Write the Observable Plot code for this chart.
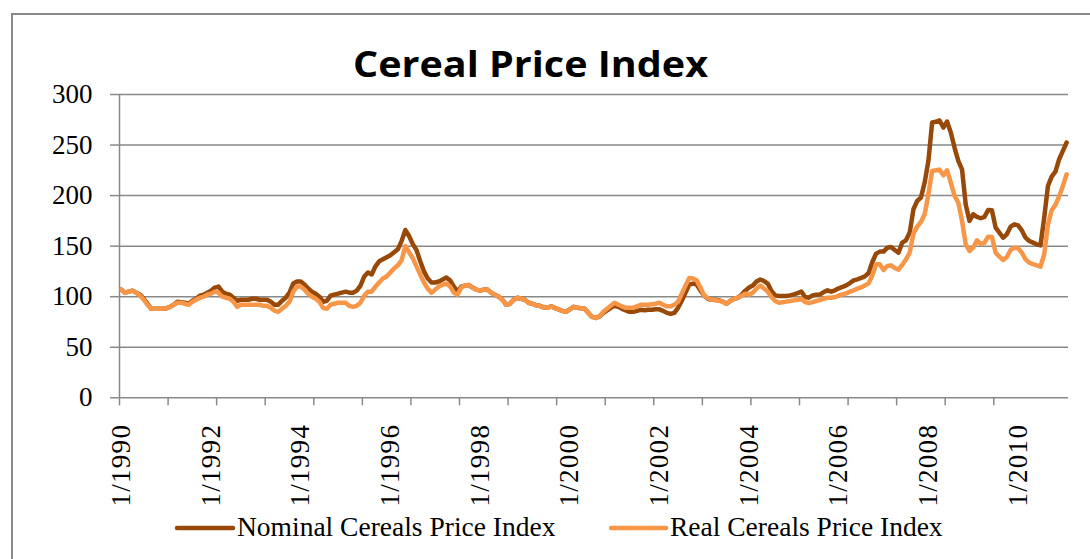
<!DOCTYPE html>
<html>
<head>
<meta charset="utf-8">
<script src="https://cdn.jsdelivr.net/npm/d3@7"></script>
<script src="https://cdn.jsdelivr.net/npm/@observablehq/plot@0.6"></script>
<style>
  html, body { margin: 0; padding: 0; background: #fff; overflow: hidden; }
  #chart { width: 1090px; height: 559px; }
</style>
</head>
<body>
<div id="chart"></div>
<script>
// Monthly values, January 1990 .. February 2011
const startYear = 1990;
const nominal = [
  107,104,105,106,104,102,98,93,88,88,88,88,
  88.5,90,92,95,94.5,94,93,96,98,101,102,104,
  106,109,110,105,103,102,99,96,97,97,97,98,
  98,97,97,97,95,92,92,96,99,104,113,115,
  115,112,108,105,103,100,95,96,101,102,103,104,
  105,104,104,106,111,120,124,122,130,135,137,139,
  141,144,147,155,166,160,152,146,135,125,118,114,
  114,115,117,119,116,110,105,110,111,111.5,109,107,
  106,107,107,104,102,100,97,92,93,97,99,98,
  97,94,93,91.5,91,89.5,89,90.5,89,87.5,86,85,
  87.5,90,89,88.5,88,84,80,79,80.5,84,86.5,89,
  91,90,88,86.5,85,85,86,87,86.5,87,87,87.5,
  87.5,86,84,83,84,89,96,104,112,113,112,106,
  101,98,97,97,96.5,95,93,96,98,99,102,106,
  109,111,115,117,115.5,113,105.6,101.3,100.7,100.7,100.7,101.3,
  102.3,103.6,105,99.7,99,101.3,102,102.3,104.6,106.3,105,106.3,
  108.3,109.6,111.2,113.5,116.2,117.2,118.5,120.1,123.4,134.3,142.6,144.6,
  144.6,148.5,149.2,146.2,143.6,153.5,155.8,163.4,186.5,194.7,198,212.9,
  234.3,272.3,273,274.3,267.3,273.3,262.4,247.5,234.3,226,191,175,
  181.5,179,177.6,179,185.8,185.5,168.3,163.4,158.4,161.7,169.3,171.6,
  170.6,165.7,158.4,155.1,153.5,151.8,150.8,178.2,209.6,218.8,223.8,236,
  244.2,252.5
];
const real = [
  107,104,105,106,104,101,97,92,88,88,88,88,
  88.5,90,92,94,94,93,92,95,97,99,100,102,
  103,105,104,100,99,98,95,90,92,92,92,92,
  92,92,91,91,89,86,85,88,91,95,105,110,
  110,107,103,100,98,95,89,88,92,93,94,94,
  94,91,90,91,94,101,105,105,110,114,118,120,
  124,128,131,136,150,144,138,130,122,114,108,104,
  107,110,112,113,110,104,102,109,111,111.5,109,107,
  106,107,107,104,102,100,97,92,93,97,99,98,
  97,94,93,91.5,91,89.5,89,90.5,89,87.5,86,85,
  87.5,90,89,88.5,88,84,80,79,81,85,88,91,
  94,92,90.5,89,89,89,90.5,92,92,92,92.5,93,
  94,92,90.5,90.5,92,95,103,111,118.5,118,116,109,
  101,98.5,97,96.5,96,95,93,96,98,99,101,103,
  102,104,108,111,108.3,105,99.7,95.7,94.1,94.4,95.1,95.7,
  96.4,97,98,94.7,93.7,94.7,95.7,96.7,98,99,99,99.7,
  101,102.3,103.3,105,106.3,108,109.2,111.2,113.2,121.2,132,132,
  126.4,130.4,131,128.4,126.7,131.4,137,143.6,162.4,169.3,173.9,181.5,
  201.3,224.4,225,225.7,220.1,225,212.9,199.7,193.1,175,151.8,145.2,
  148.5,155.8,152.2,153.2,159.4,159.1,143.6,139.6,136.3,139.3,146.2,148.5,
  147.9,143.6,137,133.7,132.3,131,129.7,141.9,171.6,185.5,190.8,199.3,
  209.6,221.1
];
const yTicks = [0, 50, 100, 150, 200, 250, 300];
const xLabels = ["1/1990","1/1992","1/1994","1/1996","1/1998","1/2000","1/2002","1/2004","1/2006","1/2008","1/2010"];
const labelEvery = 24;   // categories between labels
const tickEvery = 13;    // categories between tick marks
const seriesNames = ["Nominal Cereals Price Index", "Real Cereals Price Index"];
const titleText = "Cereal Price Index";

const nominalColor = "#984807";
const realColor = "#F79646";
const gray = "#898989";

const rows = nominal.map((v, i) => ({i: i + 0.5, nominal: v, real: real[i]}));
const tickPos = d3.range(0, nominal.length - tickEvery + 1, tickEvery);
const labelRows = xLabels.map((t, j) => ({pos: j * labelEvery + 0.5, text: t}));

const chart = Plot.plot({
  width: 1090,
  height: 559,
  marginLeft: 119,
  marginRight: 22,
  marginTop: 94,
  marginBottom: 161.7,
  x: {domain: [0, nominal.length]},
  y: {domain: [0, 300]},
  style: {fontFamily: "'Liberation Serif', serif", fontSize: "27px", color: "black", background: "white", overflow: "hidden"},
  marks: [
    Plot.gridY(yTicks, {stroke: gray, strokeOpacity: 1, strokeWidth: 1.5}),
    Plot.ruleX([0], {stroke: gray, strokeWidth: 1.5}),
    Plot.axisY(yTicks, {tickSize: 9, tickPadding: 18, stroke: gray, strokeWidth: 1.5, fill: "black", label: null, fontSize: 27}),
    Plot.axisX(tickPos, {tickSize: 8, tickFormat: () => "", stroke: gray, strokeWidth: 1.5, label: null}),
    Plot.text(labelRows, {x: "pos", y: 0, text: "text", rotate: -90, textAnchor: "end", dy: 26, fontSize: 27, fill: "black"}),
    Plot.line(rows, {x: "i", y: "nominal", stroke: nominalColor, strokeWidth: 4.5, strokeLinejoin: "round", strokeLinecap: "round"}),
    Plot.line(rows, {x: "i", y: "real", stroke: realColor, strokeWidth: 4.5, strokeLinejoin: "round", strokeLinecap: "round"})
  ]
});

const svg = d3.select(chart);
// x label letter spacing (approximate the wider original face)
svg.selectAll("text").filter(function() { return /^1\/\d{4}$/.test(this.textContent); })
  .attr("letter-spacing", "1.3");

// outer chart frame
svg.insert("rect", ":first-child")
  .attr("x", 12).attr("y", 14).attr("width", 1200).attr("height", 700)
  .attr("fill", "none").attr("stroke", gray).attr("stroke-width", 2);

// title
svg.append("text")
  .attr("x", 530.5).attr("y", 77)
  .attr("text-anchor", "middle")
  .attr("font-family", "'Open Sans', Lato, sans-serif")
  .attr("font-weight", "bold")
  .attr("font-size", 35)
  .attr("textLength", 355)
  .attr("lengthAdjust", "spacingAndGlyphs")
  .attr("fill", "black")
  .text(titleText);

// legend
const legend = [
  {name: seriesNames[0], color: nominalColor, x0: 177, x1: 233, tx: 237},
  {name: seriesNames[1], color: realColor, x0: 611, x1: 666, tx: 670}
];
const lg = svg.append("g").attr("text-anchor", "start");
lg.selectAll("line").data(legend).join("line")
  .attr("x1", d => d.x0).attr("x2", d => d.x1)
  .attr("y1", 528).attr("y2", 528)
  .attr("stroke", d => d.color).attr("stroke-width", 4.5).attr("stroke-linecap", "round");
lg.selectAll("text").data(legend).join("text")
  .attr("x", d => d.tx).attr("y", 536)
  .attr("text-anchor", "start")
  .attr("font-family", "'Liberation Serif', serif").attr("font-size", 27.5)
  .attr("fill", "black")
  .text(d => d.name);

document.getElementById("chart").appendChild(chart);
</script>
</body>
</html>
